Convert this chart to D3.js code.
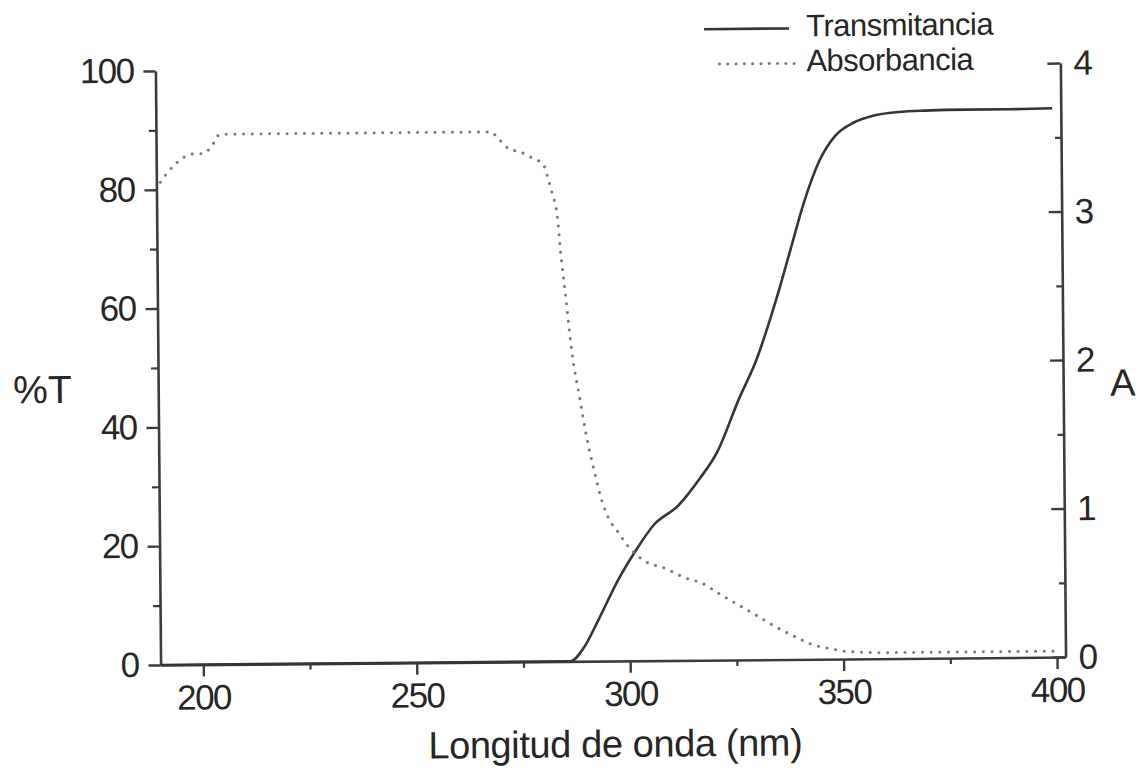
<!DOCTYPE html>
<html>
<head>
<meta charset="utf-8">
<script src="https://cdn.jsdelivr.net/npm/d3@7"></script>
<style>
  html, body { margin: 0; padding: 0; background: #ffffff; }
  svg { display: block; }
  text { font-family: "Liberation Sans", Arial, Helvetica, sans-serif; fill: #262626; }
</style>
</head>
<body>
<svg id="chart" width="1148" height="778"></svg>
<script>
// Transmittance spectrum (%T) against wavelength (nm)
const wavelengthT = [190, 200, 250, 280, 286, 289.2, 292.7, 297.4, 301.4, 306, 311.5, 316.6, 320.8, 326,
                     330.2, 334.9, 338.4, 341.5, 345.4, 349, 353.5, 358, 364, 370, 380, 390, 400];
const transmittance = [0, 0, 0, 0, 0, 2.3, 7, 13.7, 18.4, 23, 26, 30.5, 35, 43.9,
                       50.5, 60.5, 69, 76.6, 84, 88, 90.3, 91.4, 92, 92.2, 92.3, 92.3, 92.4];

// Absorbance spectrum (A) against wavelength (nm)
const wavelengthA = [190.9, 192.5, 194.4, 196.7, 199, 201, 203, 205, 268.5, 270, 272.4, 275.6, 278.2,
                     280.6, 281.7, 282.7, 283.8, 284.5, 285.7, 286.9, 288.8, 290, 290.9, 292.3, 293.4,
                     295.1, 297.4, 299.8, 303.7, 308.4, 313.1, 316.9, 320.8, 325.5, 330.2, 334.2, 338.9,
                     342.6, 347, 351, 360, 380, 400];
const absorbance = [3.25, 3.31, 3.37, 3.42, 3.44, 3.44, 3.49, 3.57, 3.57, 3.53, 3.46, 3.43, 3.39,
                    3.35, 3.26, 3.15, 3.01, 2.77, 2.44, 2.10, 1.76, 1.55, 1.42, 1.24, 1.11,
                    0.97, 0.87, 0.77, 0.67, 0.62, 0.555, 0.52, 0.45, 0.37, 0.29, 0.22, 0.15,
                    0.10, 0.07, 0.05, 0.04, 0.04, 0.04];

// Axis ticks
const xTicks = [200, 250, 300, 350, 400];
const xMinorTicks = [225, 275, 325, 375];
const tTicks = [0, 20, 40, 60, 80, 100];
const tMinorTicks = [10, 30, 50, 70, 90];
const aTicks = [0, 1, 2, 3, 4];
const aMinorTicks = [0.5, 1.5, 2.5, 3.5];

const seriesNames = ["Transmitancia", "Absorbancia"];

const svg = d3.select("#chart");
const axisColor = "#3c3c3c";

// whole figure sits slightly tilted
const g = svg.append("g").attr("transform", "rotate(-0.5, 611, 366)");

const x = d3.scaleLinear().domain([190, 402]).range([158, 1063]);
const yT = d3.scaleLinear().domain([0, 100]).range([661, 67]);
const yA = d3.scaleLinear().domain([0, 4]).range([661, 67]);

function styleAxis(sel, fontSize, spacing) {
  sel.select(".domain").attr("stroke", axisColor).attr("stroke-width", 2.6);
  sel.selectAll(".tick line").attr("stroke", axisColor).attr("stroke-width", 2.4);
  sel.selectAll(".tick text")
    .attr("fill", "#262626")
    .style("font-size", fontSize + "px")
    .style("letter-spacing", spacing + "px")
    .style("font-family", "'Liberation Sans', Arial, sans-serif");
}

// minor ticks (drawn first, without labels)
g.append("g").attr("transform", `translate(0,${yT(0)})`)
  .call(d3.axisBottom(x).tickValues(xMinorTicks).tickSize(6).tickFormat(""))
  .call(s => { s.select(".domain").remove(); s.selectAll("line").attr("stroke", axisColor).attr("stroke-width", 2.2); });
g.append("g").attr("transform", `translate(${x(190)},0)`)
  .call(d3.axisLeft(yT).tickValues(tMinorTicks).tickSize(7).tickFormat(""))
  .call(s => { s.select(".domain").remove(); s.selectAll("line").attr("stroke", axisColor).attr("stroke-width", 2.2); });
g.append("g").attr("transform", `translate(${x(402)},0)`)
  .call(d3.axisRight(yA).tickValues(aMinorTicks).tickSize(-6).tickFormat(""))
  .call(s => { s.select(".domain").remove(); s.selectAll("line").attr("stroke", axisColor).attr("stroke-width", 2.2); });

// main axes
g.append("g").attr("transform", `translate(0,${yT(0)})`)
  .call(d3.axisBottom(x).tickValues(xTicks).tickFormat(d3.format("d"))
    .tickSize(12).tickSizeOuter(0).tickPadding(8))
  .call(s => styleAxis(s, 35, -1.6));

g.append("g").attr("transform", `translate(${x(190)},0)`)
  .call(d3.axisLeft(yT).tickValues(tTicks).tickFormat(d3.format("d"))
    .tickSize(12).tickSizeOuter(0).tickPadding(10))
  .call(s => styleAxis(s, 35, -1.6));

g.append("g").attr("transform", `translate(${x(402)},0)`)
  .call(d3.axisRight(yA).tickValues(aTicks).tickFormat(d3.format("d"))
    .tickSizeInner(-13).tickSizeOuter(0).tickPadding(13))
  .call(s => styleAxis(s, 35, -1.6));

// curves
const tData = wavelengthT.map((w, i) => [w, transmittance[i]]);
const aData = wavelengthA.map((w, i) => [w, absorbance[i]]);

g.append("path")
  .datum(tData)
  .attr("fill", "none")
  .attr("stroke", "#353535")
  .attr("stroke-width", 2.6)
  .attr("d", d3.line().x(d => x(d[0])).y(d => yT(d[1])).curve(d3.curveMonotoneX));

g.append("path")
  .datum(aData)
  .attr("fill", "none")
  .attr("stroke", "#7a7a7a")
  .attr("stroke-width", 3)
  .attr("stroke-linecap", "round")
  .attr("stroke-dasharray", "0.1 8.6")
  .attr("d", d3.line().x(d => x(d[0])).y(d => yA(d[1])).curve(d3.curveMonotoneX));

// axis titles
g.append("text")
  .attr("x", 612).attr("y", 757)
  .attr("text-anchor", "middle")
  .style("font-size", "38px")
  .style("letter-spacing", "-0.4px")
  .text("Longitud de onda (nm)");

g.append("text")
  .attr("x", 13).attr("y", 398)
  .style("font-size", "39px")
  .text("%T");

g.append("text")
  .attr("x", 1110).attr("y", 400)
  .style("font-size", "38px")
  .text("A");

// legend
const legend = g.append("g").attr("transform", "translate(3,3)");
const legendRows = [
  { name: seriesNames[0], y: 27, x1: 704, x2: 789, dashed: false },
  { name: seriesNames[1], y: 62, x1: 719, x2: 794, dashed: true }
];
legendRows.forEach(r => {
  legend.append("line")
    .attr("x1", r.x1).attr("x2", r.x2).attr("y1", r.y).attr("y2", r.y)
    .attr("stroke", r.dashed ? "#7a7a7a" : "#353535")
    .attr("stroke-width", r.dashed ? 3 : 2.6)
    .attr("stroke-linecap", r.dashed ? "round" : "butt")
    .attr("stroke-dasharray", r.dashed ? "0.1 8.2" : null);
  legend.append("text")
    .attr("x", 806).attr("y", r.y + 8)
    .style("font-size", "31px")
    .style("letter-spacing", "-0.5px")
    .text(r.name);
});
</script>
</body>
</html>
